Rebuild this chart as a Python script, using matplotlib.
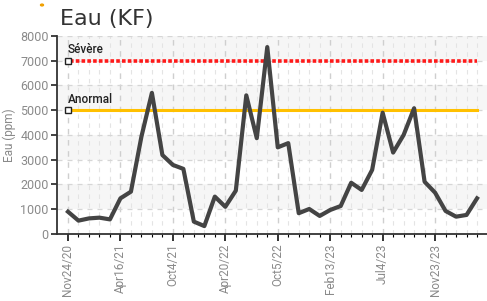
import matplotlib
matplotlib.use("Agg")
import matplotlib.pyplot as plt
import numpy as np

# water content readings, one per sample, evenly spaced on the x axis
eau_ppm = [900, 540, 630, 660, 590, 1440, 1710, 3930, 5700, 3190,
           2790, 2630, 500, 320, 1510, 1100, 1750, 5600, 3870, 7550,
           3500, 3670, 840, 1010, 730, 970, 1130, 2070, 1780, 2590,
           4900, 3290, 4000, 5080, 2110, 1670, 930, 700, 770, 1440]
date_labels = ["Nov24/20", "Apr16/21", "Oct4/21", "Apr20/22",
               "Oct5/22", "Feb13/23", "Jul4/23", "Nov23/23"]
label_step = 5
seuil_severe = 7000
seuil_anormal = 5000
y_ticks = list(range(0, 8001, 1000))

plt.rcParams["font.family"] = ["Roboto", "DejaVu Sans"]

fig = plt.figure(figsize=(4.87, 3.01), dpi=100)
ax = fig.add_axes([0.117, 0.2226, 0.883, 0.658])

n = len(eau_ppm)
x = np.arange(n)

# alternating light bands
for lo in y_ticks[1::2]:
    ax.axhspan(lo, lo + 1000, color="#f6f6f6", zorder=0, lw=0)

# grid
for xi in x:
    major = xi % label_step == 0
    ax.axvline(xi, color="#cfcfcf" if major else "#e4e4e4",
               ls=(0, (4, 4)), lw=1.0 if major else 0.8, zorder=1)
for yv in y_ticks[1:]:
    ax.axhline(yv, color="#d6d6d6", ls=(0, (4, 4)), lw=0.9, zorder=1)

# thresholds
ax.plot([0.15, n - 1], [seuil_severe] * 2, color="#ff1a1a", lw=2.6,
        ls=(0, (1, 0.6)), zorder=3)
ax.plot([0.15, n - 1], [seuil_anormal] * 2, color="#ffc000", lw=2.2, zorder=3)
for yv in (seuil_severe, seuil_anormal):
    ax.plot(0, yv, marker="s", ms=4, mfc="white", mec="#222222", mew=1.0,
            zorder=5, clip_on=False)
ax.text(-0.05, seuil_severe + 170, "Sévère", fontsize=8.5, color="#222222",
        fontweight="medium", va="bottom", ha="left")
ax.text(-0.05, seuil_anormal + 170, "Anormal", fontsize=8.5, color="#222222",
        fontweight="medium", va="bottom", ha="left")

# series
ax.plot(x, eau_ppm, color="#444444", lw=3.0, zorder=4)

ax.set_xlim(-1.05, n - 1 + 0.95)
ax.set_ylim(0, 8000)
ax.set_yticks(y_ticks)
ax.set_yticklabels([str(v) for v in y_ticks])
ax.set_xticks(x[::label_step])
ax.set_xticklabels(date_labels, rotation=90)
ax.set_xticks(x, minor=True)

ax.tick_params(axis="both", colors="#222222", labelcolor="#8a8a8a",
               labelsize=9, direction="out")
ax.tick_params(axis="x", which="major", length=5, width=1.3, pad=2,
               labelsize=8.5)
ax.tick_params(axis="x", which="minor", length=2.5, width=0.8)
ax.tick_params(axis="y", length=4, width=1.2, pad=2)

for s in ("top", "right"):
    ax.spines[s].set_visible(False)
for s in ("left", "bottom"):
    ax.spines[s].set_color("#333333")
    ax.spines[s].set_linewidth(1.3)

ax.set_ylabel("Eau (ppm)", fontsize=8.5, color="#8a8a8a", labelpad=3)

fig.text(0.123, 1 - 25 / 301, "Eau (KF)", fontsize=16, color="#333333",
         family=["DejaVu Sans"], va="baseline", ha="left")
fig.patches.append(plt.Circle((42 / 487, 1 - 5 / 301), 0.003,
                              transform=fig.transFigure, color="#f0a000"))

fig.savefig("out.png", dpi=100)
